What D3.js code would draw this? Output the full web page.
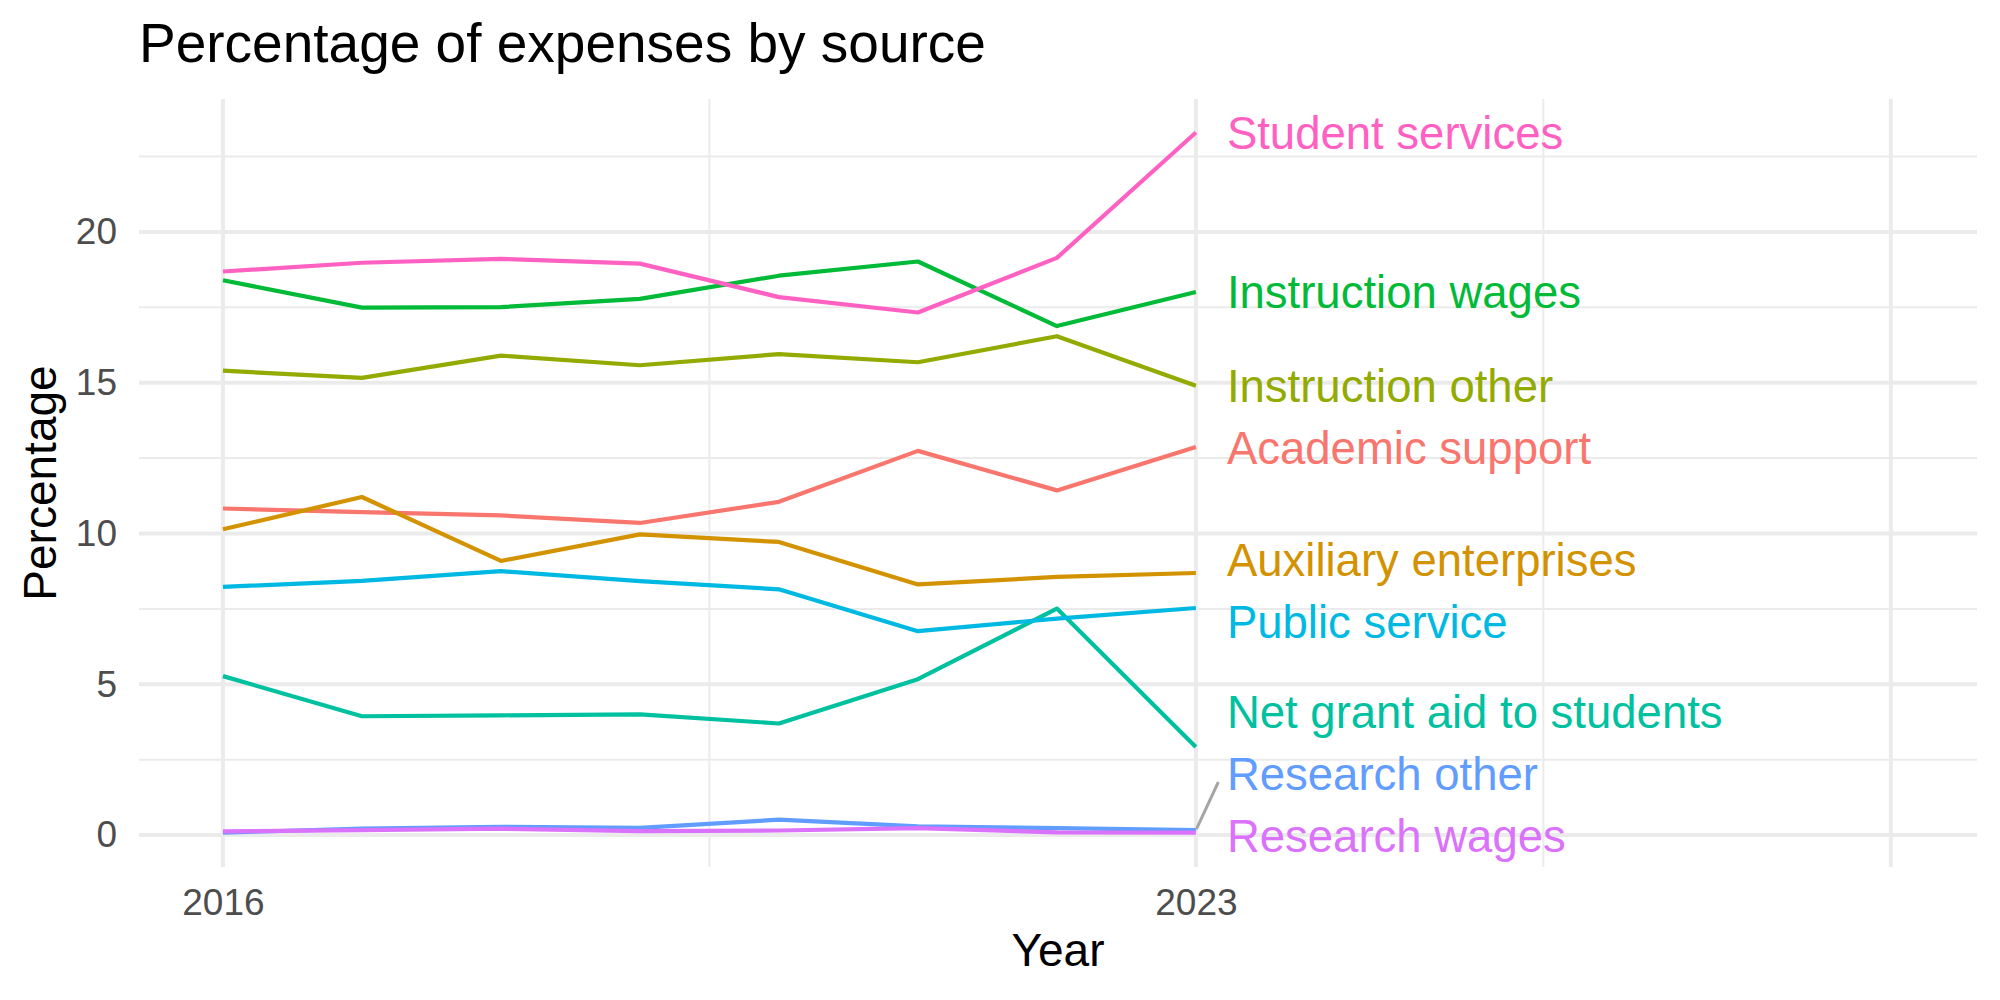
<!DOCTYPE html>
<html>
<head>
<meta charset="utf-8">
<script src="https://cdn.jsdelivr.net/npm/d3@7"></script>
<style>
  body { margin: 0; background: #fff; }
  text { font-family: "Liberation Sans", Arial, sans-serif; }
</style>
</head>
<body>
<script>
  // data
  var years = [2016, 2017, 2018, 2019, 2020, 2021, 2022, 2023];
  var sources = ['Academic support', 'Auxiliary enterprises', 'Instruction other', 'Instruction wages',
    'Net grant aid to students', 'Public service', 'Research other', 'Research wages', 'Student services'];

  var academicSupport = [10.83, 10.71, 10.60, 10.35, 11.05, 12.74, 11.43, 12.87];
  var auxiliaryEnterprises = [10.14, 11.21, 9.09, 9.97, 9.72, 8.31, 8.56, 8.69];
  var instructionOther = [15.40, 15.16, 15.90, 15.58, 15.95, 15.68, 16.54, 14.90];
  var instructionWages = [18.40, 17.49, 17.51, 17.78, 18.55, 19.02, 16.88, 18.01];
  var netGrantAid = [5.27, 3.94, 3.97, 4.00, 3.70, 5.17, 7.51, 2.92];
  var publicService = [8.23, 8.43, 8.75, 8.42, 8.15, 6.76, 7.18, 7.53];
  var researchOther = [0.08, 0.21, 0.27, 0.24, 0.51, 0.29, 0.23, 0.16];
  var researchWages = [0.12, 0.16, 0.21, 0.13, 0.15, 0.23, 0.09, 0.08];
  var studentServices = [18.69, 18.98, 19.11, 18.95, 17.84, 17.33, 19.14, 23.30];

  var seriesValues = [academicSupport, auxiliaryEnterprises, instructionOther, instructionWages,
    netGrantAid, publicService, researchOther, researchWages, studentServices];

  var yTicks = [0, 5, 10, 15, 20];
  var yMinor = [2.5, 7.5, 12.5, 17.5, 22.5];
  var xTicks = [2016, 2023];
  var xGrid = [2016, 2023, 2028];
  var xMinor = [2019.5, 2025.5];

  // ggplot hue palette
  var colors = ['#F8766D', '#D39200', '#93AA00', '#00BA38', '#00C19F', '#00B9E3', '#619CFF', '#DB72FB', '#FF61C3'];

  var W = 2000, H = 1000;
  var pLeft = 139, pRight = 1977, pTop = 99, pBottom = 867;

  var svg = d3.select('body').append('svg')
    .attr('width', W)
    .attr('height', H);

  svg.append('rect').attr('width', W).attr('height', H).attr('fill', '#fff');

  var x = d3.scaleLinear().domain([2015.396, 2028.62]).range([pLeft, pRight]);
  var y = d3.scaleLinear().domain([-1.06, 24.41]).range([pBottom, pTop]);

  // grid
  var grid = svg.append('g').attr('stroke', '#EBEBEB');
  grid.selectAll('.ymin').data(yMinor).enter().append('line')
    .attr('x1', pLeft).attr('x2', pRight)
    .attr('y1', function(d) { return y(d); }).attr('y2', function(d) { return y(d); })
    .attr('stroke-width', 2);
  grid.selectAll('.xmin').data(xMinor).enter().append('line')
    .attr('y1', pTop).attr('y2', pBottom)
    .attr('x1', function(d) { return x(d); }).attr('x2', function(d) { return x(d); })
    .attr('stroke-width', 2);
  grid.selectAll('.ymaj').data(yTicks).enter().append('line')
    .attr('x1', pLeft).attr('x2', pRight)
    .attr('y1', function(d) { return y(d); }).attr('y2', function(d) { return y(d); })
    .attr('stroke-width', 4);
  grid.selectAll('.xmaj').data(xGrid).enter().append('line')
    .attr('y1', pTop).attr('y2', pBottom)
    .attr('x1', function(d) { return x(d); }).attr('x2', function(d) { return x(d); })
    .attr('stroke-width', 4);

  // axes (text only)
  var yAxis = svg.append('g')
    .attr('transform', 'translate(' + pLeft + ',0)')
    .call(d3.axisLeft(y).tickValues(yTicks).tickSize(0).tickPadding(22));
  var xAxis = svg.append('g')
    .attr('transform', 'translate(0,' + pBottom + ')')
    .call(d3.axisBottom(x).tickValues(xTicks).tickFormat(d3.format('d')).tickSize(0).tickPadding(22));
  [yAxis, xAxis].forEach(function(a) {
    a.select('.domain').remove();
    a.selectAll('text')
      .attr('fill', '#4D4D4D')
      .style('font-size', '37px')
      .style('font-family', '"Liberation Sans", Arial, sans-serif');
  });

  // lines
  var line = d3.line()
    .x(function(d, i) { return x(years[i]); })
    .y(function(d) { return y(d); });

  svg.append('g').selectAll('path')
    .data(seriesValues)
    .enter().append('path')
    .attr('d', line)
    .attr('fill', 'none')
    .attr('stroke', function(d, i) { return colors[i]; })
    .attr('stroke-width', 4.2)
    .attr('stroke-linejoin', 'round');

  // end labels, pushed apart so they do not overlap
  var h = 62, lo = pTop + h / 2, hi = pBottom - h / 2;
  var labels = sources.map(function(s, i) {
    var v = seriesValues[i][years.length - 1];
    return { name: s, color: colors[i], target: y(v) };
  }).sort(function(a, b) { return a.target - b.target; });

  function place(c) {
    var n = c.items.length;
    var s = d3.mean(c.items, function(d) { return d.target; }) - (n - 1) * h / 2;
    c.s = Math.max(lo, Math.min(hi - (n - 1) * h, s));
  }
  var clusters = [];
  labels.forEach(function(d) {
    var c = { items: [d] };
    place(c);
    clusters.push(c);
    while (clusters.length > 1) {
      var a = clusters[clusters.length - 2], b = clusters[clusters.length - 1];
      if (a.s + a.items.length * h > b.s) {
        a.items = a.items.concat(b.items);
        clusters.pop();
        place(a);
      } else break;
    }
  });
  clusters.forEach(function(c) {
    c.items.forEach(function(d, k) { d.pos = c.s + k * h; });
  });

  var lx = x(2023) + 31;
  labels.forEach(function(d) {
    if (Math.abs(d.pos - d.target) > 45) {
      svg.append('line')
        .attr('x1', x(2023) + 1).attr('y1', d.target - 2)
        .attr('x2', lx - 9).attr('y2', d.pos + (d.target > d.pos ? 9 : -9))
        .attr('stroke', '#A6A6A6')
        .attr('stroke-width', 3)
        .attr('stroke-linecap', 'round');
    }
  });

  svg.append('g').selectAll('text')
    .data(labels)
    .enter().append('text')
    .attr('x', lx)
    .attr('y', function(d) { return d.pos; })
    .attr('dy', '0.36em')
    .attr('fill', function(d) { return d.color; })
    .style('font-size', '45.5px')
    .text(function(d) { return d.name; });

  // titles
  svg.append('text')
    .attr('x', 139).attr('y', 62)
    .style('font-size', '55px')
    .attr('fill', '#000')
    .text('Percentage of expenses by source');

  svg.append('text')
    .attr('x', (pLeft + pRight) / 2).attr('y', 966)
    .attr('text-anchor', 'middle')
    .style('font-size', '46px')
    .attr('fill', '#000')
    .text('Year');

  svg.append('text')
    .attr('transform', 'translate(56,' + ((pTop + pBottom) / 2) + ') rotate(-90)')
    .attr('text-anchor', 'middle')
    .style('font-size', '46px')
    .attr('fill', '#000')
    .text('Percentage');
</script>
</body>
</html>
